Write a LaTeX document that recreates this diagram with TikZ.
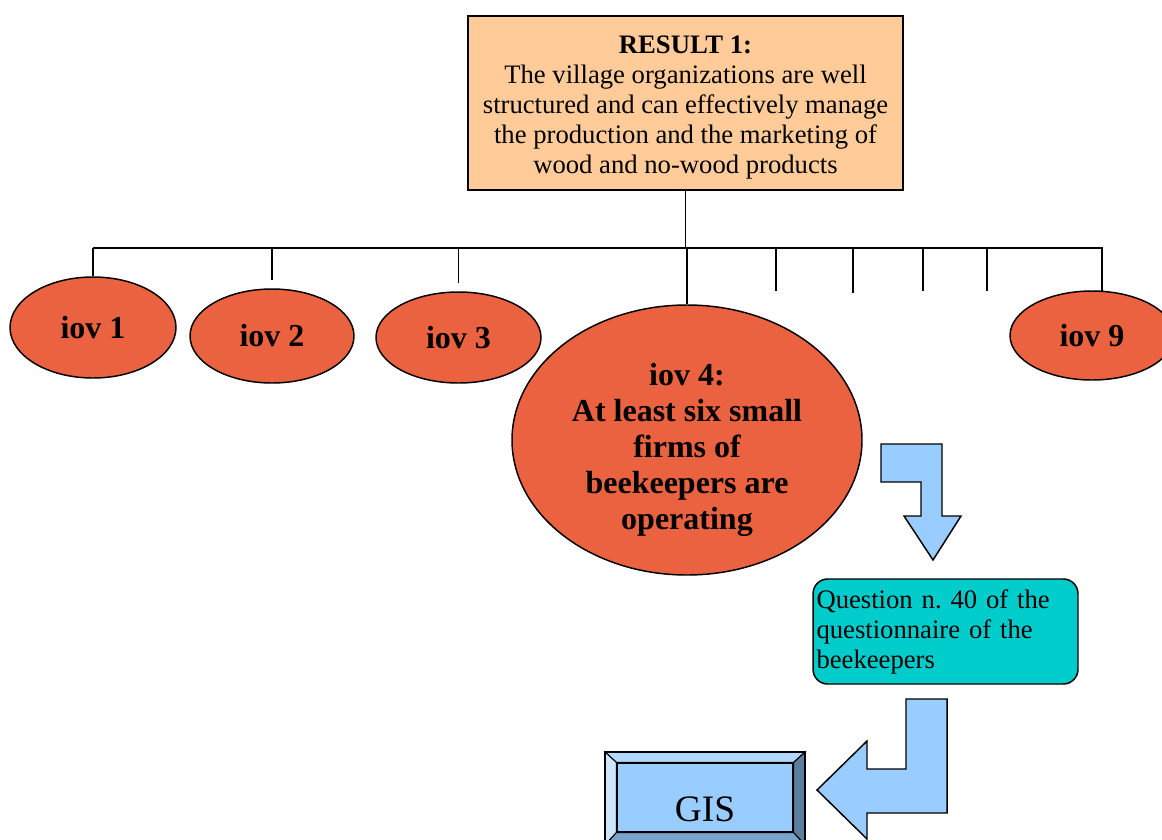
\documentclass[tikz,border=0pt]{standalone}
\usepackage{fontspec}
\setmainfont{Liberation Serif}
\usetikzlibrary{shapes.geometric}
\definecolor{resultfill}{RGB}{255,204,153}
\definecolor{iovfill}{RGB}{235,98,64}
\definecolor{questfill}{RGB}{0,204,204}
\definecolor{arrowblue}{RGB}{153,204,255}
\definecolor{bevlight}{RGB}{204,230,255}
\definecolor{bevtop}{RGB}{178,216,255}
\definecolor{bevdark}{RGB}{92,127,158}
\definecolor{bevbottom}{RGB}{122,163,204}

\begin{document}
\begin{tikzpicture}[x=0.75pt, y=-0.75pt,
    result/.style={draw, fill=resultfill, line width=1.1pt, align=center, minimum width=326.25pt, minimum height=130.5pt, font=\fontsize{20}{22.5}\selectfont},
    iov/.style={ellipse, draw, fill=iovfill, line width=1.1pt, inner sep=0pt, align=center, font=\fontsize{24}{27}\selectfont\bfseries},
    quest/.style={draw, fill=questfill, rounded corners=11pt, line width=1.1pt, align=left, text width=193.5pt, minimum height=78.75pt, inner sep=2.6pt, font=\fontsize{20}{22.5}\selectfont},
    gis/.style={draw, fill=arrowblue, line width=0.8pt, minimum width=132pt, minimum height=51.75pt, inner sep=0pt, font=\fontsize{28}{30}\selectfont},
    bigarrow/.style={draw, fill=arrowblue, line width=1.1pt},
    link/.style={line width=1.1pt}
]
\useasboundingbox (0,0) rectangle (1162,839);
\clip (0,0) rectangle (1162,839);

\node[result] (result) at (685.5,103) {\raisebox{-3pt}[\height][\depth]{\begin{tabular}{@{}c@{}}\textbf{RESULT 1:}\\The village organizations are well\\structured and can effectively manage\\the production and the marketing of\\wood and no-wood products\end{tabular}}};

\node[iov, minimum width=124.5pt, minimum height=75.75pt] (iov1) at (93,327.5) {iov 1};
\node[iov, minimum width=123pt, minimum height=70.5pt] (iov2) at (272,336) {iov 2};
\node[iov, minimum width=123.75pt, minimum height=68.25pt] (iov3) at (458.5,337.5) {iov 3};
\node[iov, minimum width=262.5pt, minimum height=202.5pt] (iov4) at (687,440) {\raisebox{-8pt}[\height][\depth]{\begin{tabular}{@{}c@{}}iov 4:\\At least six small\\firms of\\beekeepers are\\operating\end{tabular}}};
\node[iov, minimum width=123pt, minimum height=66.75pt] (iov9) at (1092,335.5) {iov 9};

% tree
\coordinate (bus) at (685.5,248);
\coordinate (stub9) at (1102,291);
\draw[link] (result.south) -- (result.south |- bus);
\draw[link] (iov1.north |- bus) -- (stub9 |- bus) -- (stub9);
\draw[link] (iov1.north |- bus) -- (iov1.north);
\draw[link] (iov2.north |- bus) -- ++(0,32);
\draw[link] (iov3.north |- bus) -- ++(0,35);
\draw[link] (iov4.north |- bus) -- (iov4.north);
\foreach \x/\y [count=\i] in {776/291, 853/293, 923/291, 987/291} {
    \coordinate (stub\i) at (\x,\y);
    \draw[link] (stub\i |- bus) -- (stub\i);
}

\node[quest] (quest) at (945.5,631.5) {Question n.\ 40 of the questionnaire of the beekeepers};

% GIS button
\node[gis] (gis) at (705,797.5) {\raisebox{-8.6pt}[\height][\depth]{GIS}};
\coordinate (g1) at (605,752);
\coordinate (g2) at (805,752);
\coordinate (g3) at (805,845);
\coordinate (g4) at (605,845);
\filldraw[fill=bevtop, line width=0.8pt] (g1) -- (g2) -- (gis.north east) -- (gis.north west) -- cycle;
\filldraw[fill=bevlight, line width=0.8pt] (g1) -- (gis.north west) -- (gis.south west) -- (g4) -- cycle;
\filldraw[fill=bevdark, line width=0.8pt] (g2) -- (g3) -- (gis.south east) -- (gis.north east) -- cycle;
\filldraw[fill=bevbottom, line width=0.8pt] (g4) -- (gis.south west) -- (gis.south east) -- (g3) -- cycle;
\draw[line width=1.1pt] (g1) rectangle (g3);

% bent arrows
\draw[bigarrow] (881,444) -- (942,444) -- (942,516) -- (961,516) -- (933,560) -- (904,516) -- (921,516) -- (921,482) -- (881,482) -- cycle;
\draw[bigarrow] (906,699) -- (947,699) -- (947,813) -- (867,813) -- (867,839) -- (817,790) -- (867,741) -- (867,769) -- (906,769) -- cycle;
\end{tikzpicture}
\end{document}
